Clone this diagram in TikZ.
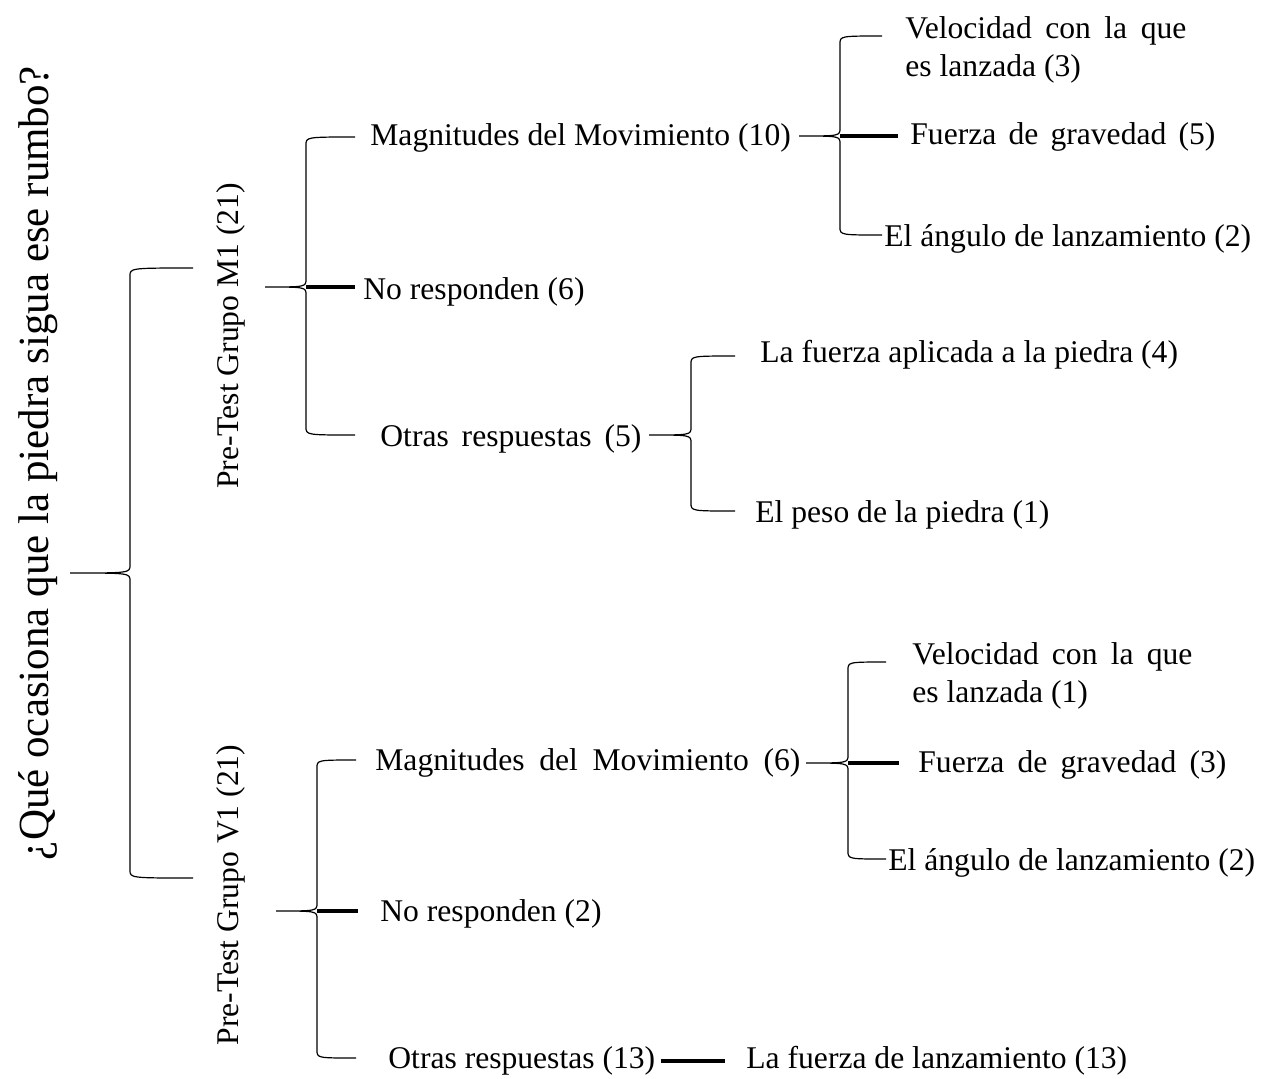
\documentclass[tikz,border=0pt]{standalone}
\usepackage{fontspec}
\setmainfont{Liberation Serif}
\usetikzlibrary{calc}
\newcommand{\lbfont}{\fontsize{15.8}{19}\selectfont}
\newcommand{\rootfont}{\fontsize{21.5}{24}\selectfont}
\newcommand{\spreadto}[2]{\makebox[#1][s]{#2}}
\tikzset{
  lbl/.style    = {font=\lbfont, inner sep=0pt, anchor=west, align=left,
                   yshift=-1.5pt},
  grplbl/.style = {font=\lbfont, inner sep=0pt, rotate=90},
  brace/.style  = {draw=black, line width=0.6pt},
  stem/.style   = {draw=black, line width=1.7pt},
}
% word-style curly brace: tip, spine, top end, bottom end
\newcommand{\wbrace}[4]{%
  \draw[brace] (#3) .. controls (#3 -| #2) .. ($(#3 -| #2)+(0,8)$)
    -- ($(#1 -| #2)+(0,-8)$) .. controls (#1 -| #2) .. (#1)
    .. controls (#1 -| #2) .. ($(#1 -| #2)+(0,8)$)
    -- ($(#4 -| #2)+(0,-8)$) .. controls (#4 -| #2) .. (#4);}
\begin{document}
\begin{tikzpicture}[x=0.5pt, y=-0.5pt]
  \useasboundingbox (0,0) rectangle (1268,1078);

  % ---------- question and groups ----------
  \node[grplbl, font=\rootfont] (q) at (38,463)
    {¿Qué ocasiona que la piedra sigua ese rumbo?};
  \node[grplbl] (m1) at (231,336) {Pre-Test Grupo M1 (21)};
  \node[grplbl] (v1) at (231,895) {Pre-Test Grupo V1 (21)};

  % ---------- group M1 ----------
  \node[lbl] (mag10) at (370,135) {Magnitudes del Movimiento (10)};
  \node[lbl] (nr6)   at (363,289) {No responden (6)};
  \node[lbl] (otr5)  at (380,436) {\spreadto{130.5pt}{Otras respuestas (5)}};
  \node[lbl] (vel3)  at (905,47)
    {\spreadto{140.5pt}{Velocidad con la que}\\ es lanzada (3)};
  \node[lbl] (fg5)   at (910,134) {\spreadto{152.5pt}{Fuerza de gravedad (5)}};
  \node[lbl] (ang2a) at (884,236) {El ángulo de lanzamiento (2)};
  \node[lbl] (lfa4)  at (760,352) {La fuerza aplicada a la piedra (4)};
  \node[lbl] (pes1)  at (755,512) {El peso de la piedra (1)};

  % ---------- group V1 ----------
  \node[lbl] (mag6)  at (375,760) {\spreadto{212.5pt}{Magnitudes del Movimiento (6)}};
  \node[lbl] (nr2)   at (380,911) {No responden (2)};
  \node[lbl] (otr13) at (388,1058) {Otras respuestas (13)};
  \node[lbl] (lfl13) at (746,1058) {La fuerza de lanzamiento (13)};
  \node[lbl] (vel1)  at (912,673)
    {\spreadto{140pt}{Velocidad con la que}\\ es lanzada (1)};
  \node[lbl] (fg3)   at (918,762) {\spreadto{154pt}{Fuerza de gravedad (3)}};
  \node[lbl] (ang2b) at (888,860) {El ángulo de lanzamiento (2)};

  % ---------- brace anchors ----------
  \coordinate (qtip) at (70,573);    \coordinate (qsp) at (130,573);
  \coordinate (qtop) at (193,268);   \coordinate (qbot) at (193,878);
  \coordinate (m1tip) at (265,287);  \coordinate (m1sp) at (306,287);
  \coordinate (m1top) at (355,137);  \coordinate (m1bot) at (355,435);
  \coordinate (v1tip) at (276,911);  \coordinate (v1sp) at (317,911);
  \coordinate (v1top) at (356,760);  \coordinate (v1bot) at (356,1058);
  \coordinate (g10tip) at (799,136); \coordinate (g10sp) at (840,136);
  \coordinate (g10top) at (882,36);  \coordinate (g10bot) at (882,235);
  \coordinate (o5tip) at (649,435);  \coordinate (o5sp) at (691,435);
  \coordinate (o5top) at (735,356);  \coordinate (o5bot) at (735,511);
  \coordinate (g6tip) at (806,763);  \coordinate (g6sp) at (848,763);
  \coordinate (g6top) at (886,662);  \coordinate (g6bot) at (886,859);

  % ---------- braces ----------
  \wbrace{qtip}{qsp}{qtop}{qbot}
  \wbrace{m1tip}{m1sp}{m1top}{m1bot}
  \wbrace{v1tip}{v1sp}{v1top}{v1bot}
  \wbrace{g10tip}{g10sp}{g10top}{g10bot}
  \wbrace{o5tip}{o5sp}{o5top}{o5bot}
  \wbrace{g6tip}{g6sp}{g6top}{g6bot}

  % ---------- stems to middle items ----------
  \draw[stem] (m1sp) -- ($(m1sp -| nr6.west)+(-8,0)$);
  \draw[stem] (v1sp) -- ($(v1sp -| nr2.west)+(-22,0)$);
  \draw[stem] (g10sp) -- ($(g10sp -| fg5.west)+(-12,0)$);
  \draw[stem] (g6sp) -- ($(g6sp -| fg3.west)+(-19,0)$);
  \draw[stem] ($(otr13.east)+(5,0)$) -- ($(lfl13.west)+(-21,0)$);

\end{tikzpicture}
\end{document}
